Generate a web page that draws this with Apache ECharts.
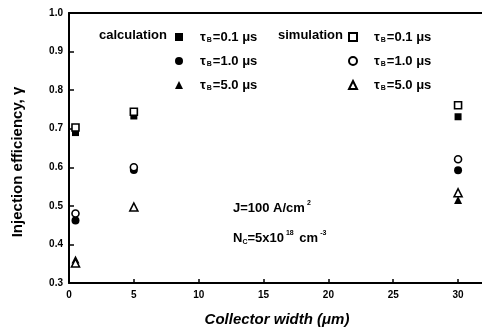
<!DOCTYPE html>
<html>
<head>
<meta charset="utf-8">
<script src="https://cdn.jsdelivr.net/npm/echarts@6/dist/echarts.min.js"></script>
<style>
  html, body { margin: 0; padding: 0; background: #fff; }
  #main { width: 482px; height: 329px; }
</style>
</head>
<body>
<div id="main"></div>
<script>
// collector widths (um)
const widths = [0.5, 5, 30]
// calculation (filled) and simulation (open), per base lifetime
const calc01 = [0.69, 0.733, 0.731]
const calc10 = [0.462, 0.593, 0.592]
const calc50 = [0.361, 0.497, 0.515]
const sim01 = [0.703, 0.744, 0.761]
const sim10 = [0.48, 0.60, 0.621]
const sim50 = [0.352, 0.497, 0.534]
const xTicks = [0, 5, 10, 15, 20, 25, 30]

const FONT = 'Liberation Sans'
const labels = {
  c01: '{t|τ}{s|B}{t|=0.1 μs}', c10: '{t|τ}{s|B}{t|=1.0 μs}', c50: '{t|τ}{s|B}{t|=5.0 μs}',
  s01: '{t|τ}{s|B}{t|=0.1 μs}', s10: '{t|τ}{s|B}{t|=1.0 μs}', s50: '{t|τ}{s|B}{t|=5.0 μs}'
}
const pairs = ys => widths.map((x, i) => [x, ys[i]])

function mk (name, ys, symbol, filled, size) {
  return {
    name,
    type: 'scatter',
    data: pairs(ys),
    symbol,
    symbolSize: size,
    z: filled ? 2 : 3,
    itemStyle: filled
      ? { color: '#000', opacity: 1 }
      : { color: '#fff', borderColor: '#000', borderWidth: 1.6, opacity: 1 }
  }
}

const legendRich = {
  t: { fontFamily: FONT, fontWeight: 'bold', fontSize: 13, color: '#000', lineHeight: 14 },
  s: { fontFamily: FONT, fontWeight: 'bold', fontSize: 7, color: '#000', lineHeight: 14, padding: [7, 1, 0, 1] }
}
const legendCommon = {
  orient: 'vertical',
  padding: 0,
  itemWidth: 8,
  itemHeight: 8,
  itemGap: 10,
  selectedMode: false,
  formatter: n => labels[n],
  textStyle: { rich: legendRich, padding: [0, 0, 0, 12] }
}

const chart = echarts.init(document.getElementById('main'))
chart.setOption({
  animation: false,
  backgroundColor: '#fff',
  grid: { left: 69, top: 13, right: -2, bottom: 46, containLabel: false, outerBoundsMode: 'none' },
  xAxis: [{
    type: 'value', min: 0, max: 32, interval: 5,
    axisLine: { lineStyle: { color: '#000', width: 2 } },
    axisTick: { inside: true, length: 4, lineStyle: { color: '#000', width: 1.5 }, customValues: xTicks },
    axisLabel: { fontFamily: FONT, fontWeight: 'bold', fontSize: 10, color: '#000', margin: 7, customValues: xTicks },
    splitLine: { show: false }
  }, {
    type: 'value', min: 0, max: 32, position: 'top',
    axisLine: { show: true, lineStyle: { color: '#000', width: 2 } },
    axisTick: { show: false }, axisLabel: { show: false }, splitLine: { show: false }
  }],
  yAxis: {
    type: 'value', min: 0.3, max: 1.0, interval: 0.1,
    axisLine: { show: true, lineStyle: { color: '#000', width: 2 } },
    axisTick: { inside: true, length: 5, lineStyle: { color: '#000', width: 1.5 } },
    axisLabel: { fontFamily: FONT, fontWeight: 'bold', fontSize: 10, color: '#000', margin: 6,
      formatter: v => v.toFixed(1) },
    splitLine: { show: false }
  },
  legend: [
    Object.assign({ left: 175, top: 30, data: ['c01', 'c10', 'c50'] }, legendCommon),
    Object.assign({ left: 348, top: 30, data: ['s01', 's10', 's50'] }, legendCommon)
  ],
  graphic: [
    { type: 'text', left: 99, top: 29, style: { text: 'calculation', fontFamily: FONT, fontWeight: 'bold', fontSize: 13, fill: '#000' } },
    { type: 'text', left: 278, top: 29, style: { text: 'simulation', fontFamily: FONT, fontWeight: 'bold', fontSize: 13, fill: '#000' } },
    { type: 'text', x: 233, y: 208, style: {
      text: '{t|J=100 A/cm}{p|2}', verticalAlign: 'middle',
      rich: { t: { fontFamily: FONT, fontWeight: 'bold', fontSize: 13, fill: '#000' },
        p: { fontFamily: FONT, fontWeight: 'bold', fontSize: 7, fill: '#000', padding: [0, 0, 9, 2] } } } },
    { type: 'text', x: 233, y: 238, style: {
      text: '{t|N}{s|C}{t|=5x10}{p|18}{t| cm}{p|-3}', verticalAlign: 'middle',
      rich: { t: { fontFamily: FONT, fontWeight: 'bold', fontSize: 13, fill: '#000' },
        s: { fontFamily: FONT, fontWeight: 'bold', fontSize: 7, fill: '#000', padding: [9, 0, 0, 0] },
        p: { fontFamily: FONT, fontWeight: 'bold', fontSize: 7, fill: '#000', padding: [0, 2, 9, 2] } } } },
    { type: 'text', x: 18, y: 162, rotation: Math.PI / 2, style: {
      text: 'Injection efficiency, γ', fontFamily: FONT, fontWeight: 'bold', fontSize: 15, fill: '#000',
      align: 'center', verticalAlign: 'middle' } },
    { type: 'text', x: 277, y: 320, style: {
      text: 'Collector width (μm)', fontFamily: FONT, fontWeight: 'bold', fontStyle: 'italic', fontSize: 15, fill: '#000',
      align: 'center', verticalAlign: 'middle' } }
  ],
  series: [
    mk('c01', calc01, 'rect', true, 7),
    mk('c10', calc10, 'circle', true, 8),
    mk('c50', calc50, 'triangle', true, 8),
    mk('s01', sim01, 'rect', false, 7),
    mk('s10', sim10, 'circle', false, 7),
    mk('s50', sim50, 'triangle', false, 8)
  ]
})
</script>
</body>
</html>
